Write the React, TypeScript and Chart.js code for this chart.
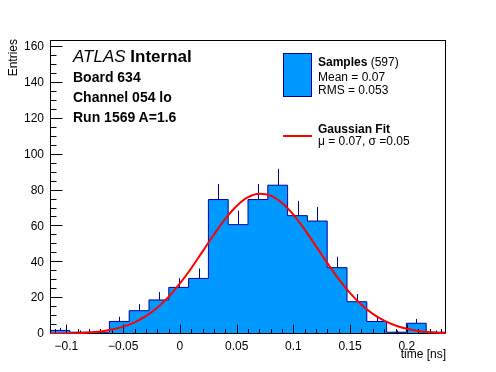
import React, { useEffect, useRef } from "react";
import { Chart, registerables } from "chart.js";

Chart.register(...registerables);

// ---- data ----
const binLow = -0.1145;
const binHigh = 0.2345;
const binCounts = [2, 1, 1, 7, 13, 19, 26, 31, 75, 61, 75, 83, 66, 63, 37, 18, 7, 1, 6, 1];

const fitX = [
  -0.1145, -0.11, -0.1, -0.09, -0.08, -0.07, -0.06, -0.05, -0.04, -0.03, -0.02, -0.01,
  0.0, 0.01, 0.02, 0.03, 0.04, 0.05, 0.06, 0.07, 0.08, 0.09, 0.1, 0.11, 0.12, 0.13,
  0.14, 0.15, 0.16, 0.17, 0.18, 0.19, 0.2, 0.21, 0.22, 0.23, 0.2345,
];
const fitY = [
  0.08, 0.11, 0.22, 0.43, 0.79, 1.43, 2.47, 4.09, 6.51, 9.98, 14.7, 20.7,
  28.2, 36.7, 46.1, 55.5, 64.2, 71.4, 76.3, 78.3, 77.2, 73.1, 66.6, 58.2, 48.9, 39.5,
  30.6, 22.8, 16.3, 11.2, 7.43, 4.72, 2.88, 1.69, 0.95, 0.51, 0.36,
];

const xTickValues = [-0.1, -0.05, 0, 0.05, 0.1, 0.15, 0.2];
const yTickValues = [0, 20, 40, 60, 80, 100, 120, 140, 160];
const yMax = 164;

const FILL = "rgb(0,153,255)";
const LINE = "rgb(0,0,153)";
const FONT = "'Liberation Sans', Arial, Helvetica, sans-serif";

const binWidth = (binHigh - binLow) / binCounts.length;

const fmt = (v: number) => {
  const s = String(Number(v.toFixed(3)));
  return s.replace("-", "\u2212");
};

const rootAxesPlugin = {
  id: "rootAxes",
  afterDatasetDraw(chart: any, args: any) {
    if (args.index !== 1) return;
    const { ctx, chartArea: a, scales } = chart;
    const x = scales.x;
    const y = scales.y;
    ctx.save();
    // error bars (upper half)
    ctx.strokeStyle = LINE;
    ctx.lineWidth = 1;
    binCounts.forEach((c, i) => {
      if (c <= 0) return;
      const cx = Math.round(x.getPixelForValue(binLow + (i + 0.5) * binWidth)) + 0.5;
      ctx.beginPath();
      ctx.moveTo(cx, y.getPixelForValue(c));
      ctx.lineTo(cx, y.getPixelForValue(c + Math.sqrt(c)));
      ctx.stroke();
    });
    // frame
    ctx.strokeStyle = "#000";
    ctx.lineWidth = 1;
    const L = Math.round(a.left) + 0.5;
    const R = Math.round(a.right) - 0.5;
    const T = Math.round(a.top) + 0.5;
    const B = Math.round(a.bottom) - 0.5;
    ctx.strokeRect(L, T, R - L, B - T);
    // y ticks
    ctx.beginPath();
    for (let k = 0; k * 5 <= yMax; k++) {
      const v = k * 5;
      const py = Math.round(y.getPixelForValue(v)) - 0.5;
      const len = k % 4 === 0 ? 12 : 6;
      ctx.moveTo(L, py);
      ctx.lineTo(L + len, py);
    }
    // x ticks
    for (let k = -11; k <= 23; k++) {
      const v = k / 100;
      const px = Math.round(x.getPixelForValue(v)) + 0.5;
      const len = k % 5 === 0 ? 9 : 4.5;
      ctx.moveTo(px, B);
      ctx.lineTo(px, B - len);
    }
    ctx.stroke();
    ctx.restore();
  },
};

export default function App() {
  const ref = useRef<HTMLCanvasElement | null>(null);

  useEffect(() => {
    if (!ref.current) return;
    const histPoints = binCounts.map((c, i) => ({ x: binLow + i * binWidth, y: c }));
    histPoints.push({ x: binHigh, y: binCounts[binCounts.length - 1] });
    const fitPoints = fitX.map((v, i) => ({ x: v, y: fitY[i] }));

    const chart = new Chart(ref.current, {
      type: "line",
      data: {
        datasets: [
          {
            label: "Gaussian Fit",
            data: fitPoints,
            borderColor: "rgb(255,0,0)",
            borderWidth: 2,
            pointRadius: 0,
            fill: false,
            cubicInterpolationMode: "monotone",
          },
          {
            label: "Samples",
            data: histPoints,
            borderColor: LINE,
            borderWidth: 1,
            backgroundColor: FILL,
            pointRadius: 0,
            stepped: "before",
            fill: "origin",
          },
        ],
      },
      options: {
        animation: false,
        responsive: false,
        devicePixelRatio: 1,
        events: [],
        layout: { padding: { top: 40, right: 50, left: 0, bottom: 0 } },
        plugins: { legend: { display: false }, tooltip: { enabled: false } },
        scales: {
          x: {
            type: "linear",
            min: binLow,
            max: binHigh,
            grid: { display: false, drawTicks: false },
            border: { display: false },
            afterBuildTicks: (s: any) => {
              s.ticks = xTickValues.map((v) => ({ value: v }));
            },
            afterFit: (s: any) => {
              s.height = 38;
            },
            ticks: {
              callback: (v: any) => fmt(Number(v)),
              font: { family: FONT, size: 12 },
              color: "#000",
              padding: 5,
              maxRotation: 0,
              autoSkip: false,
            },
          },
          y: {
            type: "linear",
            min: 0,
            max: yMax,
            grid: { display: false, drawTicks: false },
            border: { display: false },
            afterBuildTicks: (s: any) => {
              s.ticks = yTickValues.map((v) => ({ value: v }));
            },
            afterFit: (s: any) => {
              s.width = 50;
            },
            ticks: {
              callback: (v: any) => fmt(Number(v)),
              font: { family: FONT, size: 12 },
              color: "#000",
              padding: 6,
              autoSkip: false,
            },
          },
        },
      },
      plugins: [rootAxesPlugin],
    });
    return () => chart.destroy();
  }, []);

  const txt = (extra: React.CSSProperties): React.CSSProperties => ({
    position: "absolute",
    fontFamily: FONT,
    whiteSpace: "nowrap",
    color: "#000",
    margin: 0,
    ...extra,
  });

  return (
    <div style={{ position: "fixed", left: 0, top: 0, width: 496, height: 372, background: "#fff" }}>
      <canvas ref={ref} width={496} height={372} style={{ width: 496, height: 372, display: "block" }} />
      {/* axis titles */}
      <div
        style={txt({
          left: 6.5,
          top: 99,
          width: 60,
          textAlign: "right",
          fontSize: 12,
          lineHeight: "12px",
          transform: "rotate(-90deg)",
          transformOrigin: "top left",
        })}
      >
        Entries
      </div>
      <div style={txt({ right: 50, top: 348, fontSize: 12, lineHeight: "12px" })}>time [ns]</div>

      {/* ATLAS label */}
      <div style={txt({ left: 73, top: 48, fontSize: 17, lineHeight: "17px" })}>
        <span style={{ fontStyle: "italic" }}>ATLAS</span> <span style={{ fontWeight: "bold" }}>Internal</span>
      </div>
      <div style={txt({ left: 73, top: 70, fontSize: 14, lineHeight: "14px", fontWeight: "bold" })}>Board 634</div>
      <div style={txt({ left: 73, top: 90, fontSize: 14, lineHeight: "14px", fontWeight: "bold" })}>Channel 054 lo</div>
      <div style={txt({ left: 73, top: 110, fontSize: 14, lineHeight: "14px", fontWeight: "bold" })}>Run 1569 A=1.6</div>

      {/* legend */}
      <div
        style={{
          position: "absolute",
          left: 283,
          top: 53,
          width: 27,
          height: 42,
          background: FILL,
          border: `1px solid ${LINE}`,
        }}
      />
      <div style={txt({ left: 318, top: 55.5, fontSize: 12, lineHeight: "12px" })}>
        <span style={{ fontWeight: "bold" }}>Samples</span> (597)
      </div>
      <div style={txt({ left: 318, top: 70.5, fontSize: 12, lineHeight: "12px" })}>Mean = 0.07</div>
      <div style={txt({ left: 318, top: 83.5, fontSize: 12, lineHeight: "12px" })}>RMS = 0.053</div>
      <div style={{ position: "absolute", left: 283, top: 135, width: 29, height: 2, background: "rgb(255,0,0)" }} />
      <div style={txt({ left: 318, top: 123.3, fontSize: 12, lineHeight: "12px", fontWeight: "bold" })}>Gaussian Fit</div>
      <div style={txt({ left: 318, top: 134.8, fontSize: 12, lineHeight: "12px" })}>μ = 0.07, σ =0.05</div>
    </div>
  );
}
